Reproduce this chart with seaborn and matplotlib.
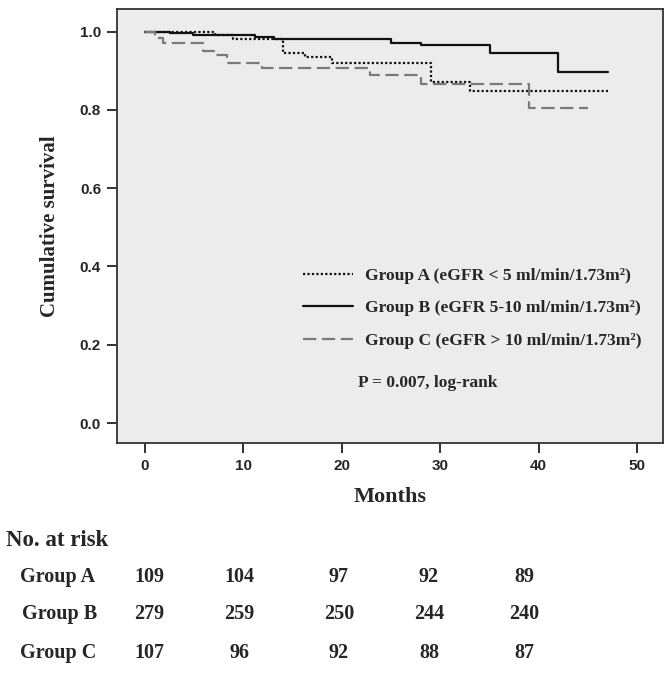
import matplotlib
matplotlib.use("Agg")
import matplotlib.pyplot as plt
import seaborn as sns
import pandas as pd

# ---- data ----
months_a = [0, 7.1, 8.9, 14.0, 16.3, 19.0, 29.1, 33.0, 47.0]
surv_a = [1.0, 0.992, 0.981, 0.945, 0.934, 0.921, 0.872, 0.849, 0.849]

months_b = [0, 2.5, 4.9, 11.2, 13.1, 25.0, 28.0, 35.1, 42.0, 47.0]
surv_b = [1.0, 0.996, 0.992, 0.987, 0.981, 0.972, 0.965, 0.946, 0.898, 0.898]

months_c = [0, 1.0, 1.8, 5.9, 7.1, 8.3, 11.9, 22.9, 28.0, 39.0, 45.0]
surv_c = [1.0, 0.983, 0.970, 0.951, 0.940, 0.919, 0.908, 0.889, 0.866, 0.804, 0.804]

labels = ["Group A (eGFR < 5 ml/min/1.73m²)",
          "Group B (eGFR 5-10 ml/min/1.73m²)",
          "Group C (eGFR > 10 ml/min/1.73m²)"]

x_ticks = [0, 10, 20, 30, 40, 50]
y_ticks = [0.0, 0.2, 0.4, 0.6, 0.8, 1.0]

risk_groups = ["Group A", "Group B", "Group C"]
risk_a = [109, 104, 97, 92, 89]
risk_b = [279, 259, 250, 244, 240]
risk_c = [107, 96, 92, 88, 87]

p_text = "P = 0.007, log-rank"

# ---- style ----
sns.set_theme(style="ticks")
plt.rcParams["font.family"] = ["Liberation Serif", "DejaVu Serif"]
plt.rcParams["axes.facecolor"] = "#ececec"

W, H = 671, 673
fig = plt.figure(figsize=(W / 100, H / 100), dpi=100)
ax = fig.add_axes([117 / W, 1 - 443 / H, (662.7 - 117) / W, (443 - 9.3) / H])

serif = "Liberation Serif"
sans = "Liberation Sans"

df_a = pd.DataFrame({"m": months_a, "s": surv_a})
df_b = pd.DataFrame({"m": months_b, "s": surv_b})
df_c = pd.DataFrame({"m": months_c, "s": surv_c})

sns.lineplot(data=df_a, x="m", y="s", ax=ax, color="#111111", lw=1.6,
             drawstyle="steps-post", estimator=None, errorbar=None,
             linestyle=(0, (1, 1)), label=labels[0])
sns.lineplot(data=df_b, x="m", y="s", ax=ax, color="#111111", lw=1.6,
             drawstyle="steps-post", estimator=None, errorbar=None,
             linestyle="-", label=labels[1])
sns.lineplot(data=df_c, x="m", y="s", ax=ax, color="#7a7a7a", lw=1.6,
             drawstyle="steps-post", estimator=None, errorbar=None,
             linestyle=(0, (6, 2.5)), label=labels[2])

ax.set_xlim(-2.85, 52.6)
ax.set_ylim(-0.051, 1.057)
ax.set_xticks(x_ticks)
ax.set_yticks(y_ticks)
ax.set_xticklabels([str(t) for t in x_ticks], fontfamily=sans, fontweight="bold", fontsize=11)
ax.set_yticklabels([f"{t:.1f}" for t in y_ticks], fontfamily=sans, fontweight="bold", fontsize=11)
ax.tick_params(axis="both", direction="out", length=7.5, width=1.3, color="#222222", pad=4)

for sp in ax.spines.values():
    sp.set_visible(True)
    sp.set_color("#333333")
    sp.set_linewidth(1.3)

ax.set_xlabel("Months", fontfamily=serif, fontweight="bold", fontsize=16, labelpad=10)
ax.set_ylabel("Cumulative survival", fontfamily=serif, fontweight="bold", fontsize=15, labelpad=14)

leg = ax.legend(loc="upper left", bbox_to_anchor=(0.341, 0.404), frameon=False,
                prop={"family": serif, "weight": "bold", "size": 12.6},
                handlelength=2.85, handletextpad=0.68, labelspacing=0.92,
                borderpad=0, borderaxespad=0)

fig.text(358 / W, 1 - 383 / H, p_text, fontfamily=serif, fontweight="bold",
         fontsize=12.5, ha="left", va="center")

# ---- number at risk table ----
fig.text(6 / W, 1 - 540 / H, "No. at risk", fontfamily=serif, fontweight="bold",
         fontsize=16.5, ha="left", va="center")
col_x = [149, 239, 339, 429, 524]
row_y = [577, 614, 653]
grp_x = [58, 60, 58]
for g, vals, yy, gx in zip(risk_groups, [risk_a, risk_b, risk_c], row_y, grp_x):
    fig.text(gx / W, 1 - yy / H, g, fontfamily=serif, fontweight="bold",
             fontsize=14.5, ha="center", va="center")
    for v, xx in zip(vals, col_x):
        fig.text(xx / W, 1 - yy / H, str(v), fontfamily=serif, fontweight="bold",
                 fontsize=14.5, ha="center", va="center")

fig.savefig("out.png", dpi=100, facecolor="white")
